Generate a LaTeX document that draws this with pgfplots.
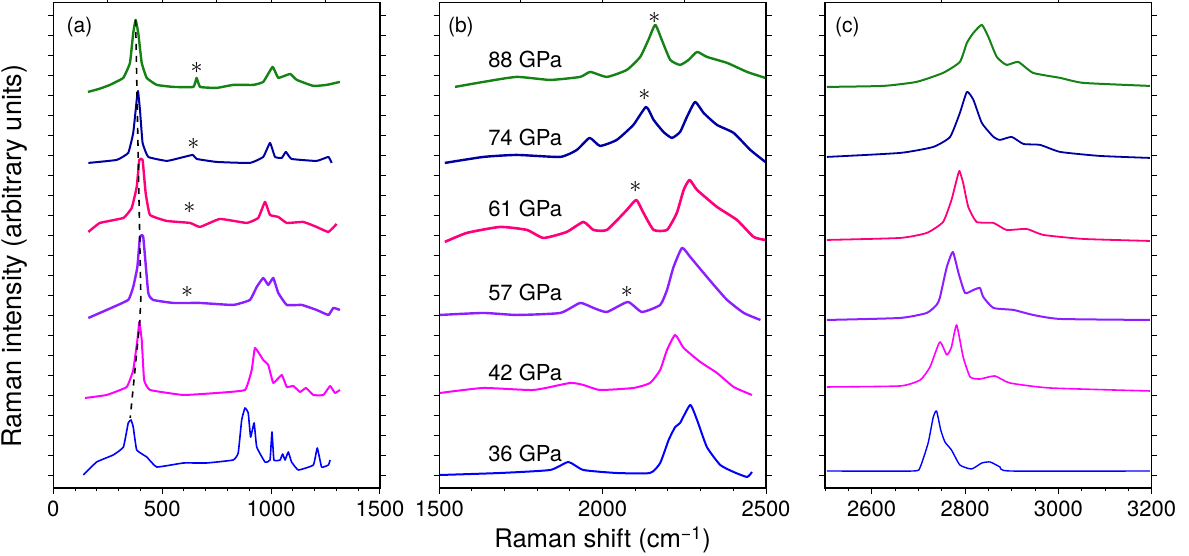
\documentclass[border=0pt]{standalone}
\usepackage{fontspec}
\setmainfont{TeX Gyre Heros}
\usepackage{pgfplots}
\pgfplotsset{compat=1.18}
\definecolor{cgreen}{RGB}{20,130,20}
\definecolor{cnavy}{RGB}{0,0,160}
\definecolor{cpink}{RGB}{255,0,125}
\definecolor{cpurple}{RGB}{140,30,255}
\definecolor{cmag}{RGB}{255,0,255}
\definecolor{cblue}{RGB}{0,0,255}
\begin{document}
\begin{tikzpicture}
\useasboundingbox (-26.65pt,-34pt) rectangle (567.85pt,244pt);
\pgfplotsset{panel/.style={
  scale only axis, width=163.35pt, height=242.5pt,
  anchor=south west,
  ymin=0, ymax=485, ytick={12,32,...,480}, yticklabels={},
  xtick pos=bottom, ytick pos=both, tick align=outside,
  axis line style={line width=0.6pt},
  major tick length=2.8pt, minor tick length=1.6pt,
  tick style={black, line width=0.5pt},
  /pgf/number format/assume math mode=true,
  /pgf/number format/1000 sep={},
  xticklabel style={font=\fontsize{11}{11}\selectfont},
  every axis plot/.append style={line join=round},
},
toptick/.style={
  scale only axis, width=163.35pt, height=242.5pt,
  anchor=south west, ymin=0, ymax=485,
  axis x line*=top, hide y axis, xticklabels={},
  tick align=outside, major tick length=2.2pt,
  tick style={black, line width=0.5pt}, axis line style={line width=0.6pt},
}}
% ---------------- panel (a)
\begin{axis}[toptick, at={(0pt,0pt)}, xmin=0, xmax=1500, xtick={250,500,...,1250}]
\end{axis}
\begin{axis}[panel, at={(0pt,0pt)}, xmin=0, xmax=1500,
  xtick={0,500,1000,1500}, minor xtick={0,100,...,1500},
  every axis plot/.append style={smooth, tension=0.2},
  ylabel={Raman intensity (arbitrary units)},
  ylabel style={at={(axis description cs:-0.1175,0.478)}, anchor=center, font=\fontsize{13.5}{13.5}\selectfont}]
\addplot[cgreen, line width=1.2pt] coordinates {(159,396)(210,399)(260,403)(321,410)(352,425)(367,455)(378,468)(390,455)(406,425)(429,410)(475,403)(551,401)(643,401)(658,410)(674,401)(750,400)(826,403)(918,403)(964,406)(1007,421)(1033,410)(1087,414)(1118,408)(1194,402)(1255,403)(1316,406)};
\addplot[cnavy, line width=1.0pt] coordinates {(161,325)(291,328)(344,335)(367,355)(383,388)(389,397)(398,378)(410,345)(436,331)(521,327)(582,330)(640,333)(658,329)(750,326)(903,325)(964,331)(995,345)(1018,331)(1049,330)(1068,336)(1094,329)(1209,327)(1263,331)(1278,325)};
\addplot[cpink, line width=1.2pt] coordinates {(161,256)(214,265)(322,270)(360,280)(383,301)(395,328)(410,328)(424,295)(444,273)(521,267)(628,265)(674,261)(765,269)(888,265)(941,270)(972,286)(995,273)(1033,271)(1072,265)(1148,266)(1209,261)(1263,256)(1301,264)};
\addplot[cpurple, line width=1.2pt] coordinates {(161,170)(245,178)(344,188)(367,201)(386,221)(398,251)(413,251)(436,195)(459,188)(551,185)(674,185)(826,183)(903,188)(934,201)(964,210)(987,203)(1010,210)(1033,195)(1072,183)(1141,183)(1209,178)(1263,173)(1286,180)(1316,178)};
\addplot[cmag, line width=1.0pt] coordinates {(146,90)(245,93)(337,101)(367,118)(386,148)(395,166)(406,148)(417,108)(444,98)(597,93)(750,95)(880,98)(911,118)(926,140)(964,128)(987,123)(1010,105)(1049,113)(1072,101)(1102,102)(1133,96)(1160,100)(1194,93)(1240,93)(1271,102)(1293,95)(1316,98)};
\addplot[cblue, line width=0.8pt] coordinates {(138,13)(199,26)(275,33)(322,41)(344,65)(357,68)(367,61)(383,38)(429,31)(475,21)(597,25)(704,25)(826,28)(849,35)(865,68)(880,80)(895,75)(906,51)(922,65)(934,41)(972,26)(995,28)(1004,56)(1013,28)(1041,28)(1053,34)(1064,28)(1079,36)(1094,26)(1125,18)(1194,23)(1212,40)(1232,21)(1263,23)(1271,28)};
\addplot[black, dashed, line width=0.8pt, sharp plot] coordinates {(378,468)(402,190)(397,166)(353,70)};
\node[font=\fontsize{10.5}{10.5}\selectfont] at (axis cs:120,461) {(a)};
\node[font=\fontsize{12}{12}\selectfont] at (axis cs:658,420) {$\ast$};
\node[font=\fontsize{12}{12}\selectfont] at (axis cs:643,344) {$\ast$};
\node[font=\fontsize{12}{12}\selectfont] at (axis cs:625,280) {$\ast$};
\node[font=\fontsize{12}{12}\selectfont] at (axis cs:615,196) {$\ast$};
\end{axis}
% ---------------- panel (b)
\begin{axis}[toptick, at={(193pt,0pt)}, xmin=1500, xmax=2500, xtick={1750,2000,2250}]
\end{axis}
\begin{axis}[panel, at={(193pt,0pt)}, xmin=1500, xmax=2500,
  xtick={1500,2000,2500}, minor xtick={1500,1600,...,2500},
  every axis plot/.append style={smooth, tension=0.3},
  xlabel={Raman shift (cm\textsuperscript{−1})},
  xlabel style={at={(axis description cs:0.5,-0.107)}, anchor=center, font=\fontsize{12.8}{12.8}\selectfont}]
\addplot[cgreen, line width=1.2pt] coordinates {(1548,401)(1635,406)(1737,411)(1839,408)(1931,411)(1962,416)(2013,411)(2074,418)(2115,431)(2140,448)(2161,463)(2181,448)(2207,428)(2237,423)(2263,428)(2289,436)(2319,431)(2381,425)(2442,416)(2498,410)};
\addplot[cnavy, line width=1.2pt] coordinates {(1517,325)(1635,331)(1737,333)(1870,331)(1921,338)(1960,350)(1992,342)(2043,348)(2094,363)(2133,381)(2156,368)(2186,356)(2212,350)(2237,356)(2258,371)(2283,386)(2309,375)(2350,363)(2401,355)(2452,338)(2498,326)};
\addplot[cpink, line width=1.3pt] coordinates {(1517,246)(1584,255)(1686,261)(1768,258)(1819,250)(1890,256)(1941,266)(1972,258)(2013,258)(2074,278)(2103,288)(2125,275)(2156,258)(2197,258)(2227,275)(2248,298)(2266,308)(2289,298)(2350,281)(2411,268)(2462,251)(2498,248)};
\addplot[cpurple, line width=1.2pt] coordinates {(1502,173)(1635,175)(1737,173)(1870,175)(1931,185)(1972,180)(2013,176)(2077,186)(2120,176)(2176,183)(2197,198)(2217,221)(2243,240)(2268,231)(2309,215)(2340,203)(2381,188)(2432,175)(2483,168)};
\addplot[cmag, line width=1.0pt] coordinates {(1502,95)(1635,100)(1788,98)(1900,105)(1941,103)(1992,98)(2094,100)(2145,105)(2176,118)(2197,138)(2222,153)(2248,140)(2299,126)(2350,115)(2401,101)(2457,93)};
\addplot[cblue, line width=1.0pt] coordinates {(1502,13)(1686,15)(1839,18)(1895,26)(1941,18)(2043,15)(2145,15)(2176,25)(2202,48)(2222,61)(2237,65)(2268,83)(2289,68)(2319,41)(2360,23)(2401,16)(2442,11)(2457,16)};
\node[font=\fontsize{10.5}{10.5}\selectfont] at (axis cs:1566,461) {(b)};
\node[font=\fontsize{11}{11}\selectfont] at (axis cs:1763,428) {88 GPa};
\node[font=\fontsize{11}{11}\selectfont] at (axis cs:1763,350) {74 GPa};
\node[font=\fontsize{11}{11}\selectfont] at (axis cs:1763,279) {61 GPa};
\node[font=\fontsize{11}{11}\selectfont] at (axis cs:1763,195) {57 GPa};
\node[font=\fontsize{11}{11}\selectfont] at (axis cs:1763,115) {42 GPa};
\node[font=\fontsize{11}{11}\selectfont] at (axis cs:1763,35) {36 GPa};
\node[font=\fontsize{12}{12}\selectfont] at (axis cs:2158,470) {$\ast$};
\node[font=\fontsize{12}{12}\selectfont] at (axis cs:2128,393) {$\ast$};
\node[font=\fontsize{12}{12}\selectfont] at (axis cs:2100,301) {$\ast$};
\node[font=\fontsize{12}{12}\selectfont] at (axis cs:2074,196) {$\ast$};
\end{axis}
% ---------------- panel (c)
\begin{axis}[toptick, at={(385.85pt,0pt)}, xmin=2500, xmax=3200, xtick={2750,3000}]
\end{axis}
\begin{axis}[panel, at={(385.85pt,0pt)}, xmin=2500, xmax=3200,
  every axis plot/.append style={smooth, tension=0.3},
  xtick={2600,2800,3000,3200}, minor xtick={2500,2550,...,3200}]
\addplot[cgreen, line width=1.0pt] coordinates {(2504,401)(2625,402)(2696,406)(2753,415)(2789,426)(2804,445)(2818,455)(2836,463)(2850,451)(2868,431)(2889,423)(2914,426)(2946,415)(3004,410)(3054,405)(3196,402)};
\addplot[cnavy, line width=0.9pt] coordinates {(2504,331)(2661,335)(2732,341)(2768,351)(2789,375)(2804,396)(2818,388)(2836,365)(2861,351)(2875,348)(2900,351)(2925,344)(2961,343)(3004,336)(3089,332)(3196,330)};
\addplot[cpink, line width=0.9pt] coordinates {(2504,248)(2661,250)(2718,255)(2753,266)(2771,288)(2782,308)(2788,317)(2796,305)(2807,281)(2825,266)(2861,265)(2889,258)(2932,259)(2968,253)(3054,249)(3196,247)};
\addplot[cpurple, line width=1.0pt] coordinates {(2504,168)(2661,170)(2718,175)(2739,183)(2746,190)(2761,221)(2774,236)(2786,215)(2800,195)(2818,198)(2832,200)(2839,191)(2861,180)(2904,178)(2946,173)(3004,169)(3196,168)};
\addplot[cmag, line width=0.8pt] coordinates {(2504,101)(2661,102)(2704,108)(2725,121)(2746,146)(2761,133)(2771,141)(2782,163)(2796,131)(2811,111)(2832,109)(2864,112)(2896,105)(2982,100)(3196,97)};
\addplot[cblue, line width=0.7pt] coordinates {(2504,17)(2689,17)(2704,21)(2721,45)(2732,71)(2739,77)(2748,58)(2757,46)(2771,38)(2789,23)(2814,19)(2836,25)(2854,26)(2875,21)(2896,17)(3196,17)};
\node[font=\fontsize{10.5}{10.5}\selectfont] at (axis cs:2548,461) {(c)};
\end{axis}
\end{tikzpicture}
\end{document}
